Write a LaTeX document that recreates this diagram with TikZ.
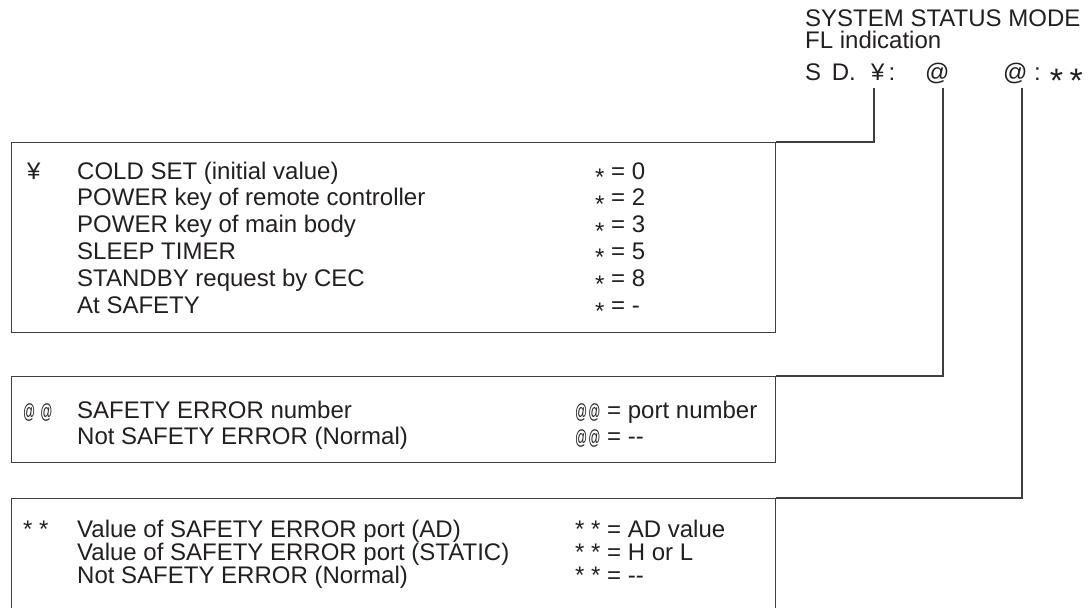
\documentclass[tikz,border=0pt]{standalone}
\usepackage{fontspec}
\usepackage{graphicx}
\setmainfont{Liberation Sans}
\usetikzlibrary{positioning}
\definecolor{ink}{RGB}{35,31,32}
\definecolor{rule}{RGB}{62,62,62}
\newcommand{\lowstar}{\raisebox{-6.5pt}{*}}
\newcommand{\hdstar}{\raisebox{-12pt}{\fontsize{34}{34}\selectfont *}}
\newcommand{\thinat}{\scalebox{0.5}[0.85]{@}}
\tikzset{
  entry/.style={anchor=base west,inner sep=0pt,text=ink,
    font=\fontsize{24}{26}\selectfont},
  panel/.style={draw=rule,line width=1.2pt,anchor=north west,inner sep=0pt,
    minimum width=764pt},
  lead/.style={draw=rule,line width=1.2pt},
}

\begin{document}
\begin{tikzpicture}[x=1pt,y=-1pt]
  \useasboundingbox (0,0) rectangle (1088,608);
  % header
  \node[entry] (title) at (805,26) {SYSTEM STATUS MODE};
  \node[entry] (fl) at (805,48) {FL indication};
  \node[entry] (sd) at (805,80) {S\ \,D.};
  \node[entry] (yen) at (871,80) {¥\,:};
  \node[entry] (at1) at (925,80) {@};
  \node[entry] (at2) at (1003,80) {@ : \hdstar\ \hdstar};
  \coordinate (c1) at (874,88);
  \coordinate (c2) at (943,88);
  \coordinate (c3) at (1022,88);

  % panels
  \node[panel,minimum height=190pt] (ybox) at (11,142) {};
  \node[panel,minimum height=86pt] (abox) at (11,376) {};
  \node[panel,minimum height=125pt] (sbox) at (11,498) {};

  \draw[lead] (c1) |- (ybox.north east);
  \draw[lead] (c2) |- (abox.north east);
  \draw[lead] (c3) |- (sbox.north east);

  % yen panel
  \node[entry] (ykey) at (27,179) {¥};
  \foreach \t/\v [count=\i] in {
    COLD SET (initial value)/0,
    POWER key of remote controller/2,
    POWER key of main body/3,
    SLEEP TIMER/5,
    STANDBY request by CEC/8,
    At SAFETY/-}
  {
    \node[entry] (yrow\i) at (77,{179+(\i-1)*26.8}) {\t};
    \node[entry] (yval\i) at (595,{179+(\i-1)*26.8}) {\lowstar\ = \v};
  }

  % at panel
  \node[entry] (akey) at (23,418) {\thinat\hspace{5pt}\thinat};
  \foreach \t/\v [count=\i] in {
    SAFETY ERROR number/port number,
    Not SAFETY ERROR (Normal)/-{}-}
  {
    \node[entry] (arow\i) at (77,{418+(\i-1)*26}) {\t};
    \node[entry] (aval\i) at (575,{418+(\i-1)*26}) {\thinat\hspace{1pt}\thinat\ = \v};
  }

  % star panel
  \node[entry] (skey) at (23,537) {* *};
  \foreach \t/\v [count=\i] in {
    Value of SAFETY ERROR port (AD)/AD value,
    Value of SAFETY ERROR port (STATIC)/H or L,
    Not SAFETY ERROR (Normal)/-{}-}
  {
    \node[entry] (srow\i) at (77,{537+(\i-1)*23}) {\t};
    \node[entry] (sval\i) at (575,{537+(\i-1)*23}) {* * = \v};
  }
\end{tikzpicture}
\end{document}
